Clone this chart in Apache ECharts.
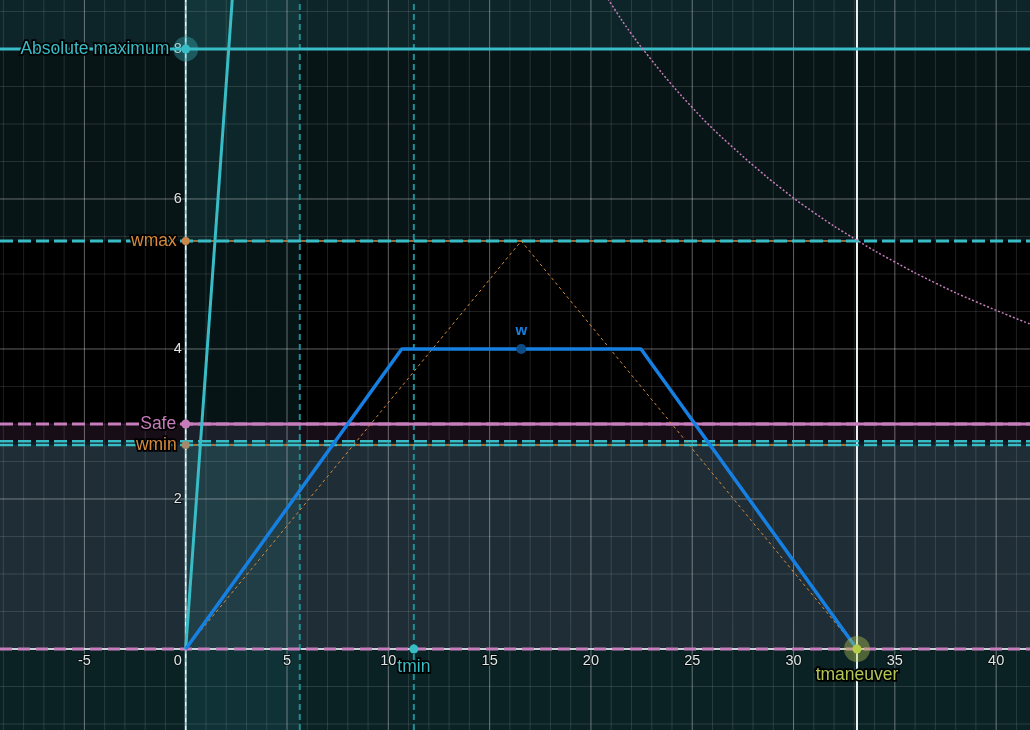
<!DOCTYPE html>
<html>
<head>
<meta charset="utf-8">
<script src="https://cdn.jsdelivr.net/npm/echarts@6/dist/echarts.min.js"></script>
<style>
html,body{margin:0;padding:0;background:#000;}
#chart{width:1030px;height:730px;}
</style>
</head>
<body>
<div id="chart"></div>
<script>
// ---------- data ----------
const xTickLabels = [-5, 0, 5, 10, 15, 20, 25, 30, 35, 40];
const yTickLabels = [2, 4, 6, 8];
const absMax = 8;
const wmax = 5.44;
const safe = 3.0;
const wminUpper = 2.77;
const wmin = 2.72;
const tHalf = 5.63;
const tmin = 11.26;
const tmaneuver = 33.13;
const wPoint = [16.56, 4.0];
const trapezoidT = [0, 10.66, 22.47, 33.13];
const trapezoidW = [0, 4.0, 4.0, 0];
const triangleT = [0, 16.56, 33.13];
const triangleW = [0, 5.44, 0];
const steepT = [0, 2.3];
const steepW = [0, 8.67];
const limitT = [20.0, 21, 22, 23, 24, 25, 26, 27, 28, 29.3, 31, 33.13, 35, 37, 39, 41.7];
const limitW = [9.03, 8.6, 8.2, 7.85, 7.52, 7.22, 6.94, 6.69, 6.45, 6.16, 5.82, 5.45, 5.16, 4.88, 4.63, 4.33];

// ---------- view ----------
const X_MIN = -9.166, X_MAX = 41.67, Y_MIN = -1.08, Y_MAX = 8.653;
const FONT = '"Liberation Sans", Arial, sans-serif';
const TEAL = '#38bcc6';
const ORANGE = '#d58a3c';
const PINK = '#c77dbb';
const BLUE = '#1680e2';

const pairs = (xs, ys) => xs.map((x, i) => [x, ys[i]]);

// horizontal background bands [low, high]
const hBands = [[absMax, Y_MAX], [wmax, absMax], [safe, wmax], [wminUpper, safe], [wmin, wminUpper], [0, wmin], [Y_MIN, 0]];
const bandColors = ['#0d2528', '#081517', '#000000', '#170d17', '#141d24', '#1f2e36', '#0b2225'];

// grid values
const xMajor = [-10, -5, 0, 5, 10, 15, 20, 25, 30, 35, 40];
const xMinor = [];
for (let v = -9; v <= 41; v++) if (v % 5 !== 0) xMinor.push(v);
const yMajor = [-2, 0, 2, 4, 6, 8];
const yMinor = [];
for (let v = -1; v <= 8.5; v += 0.5) if (Math.abs(v % 2) > 1e-9) yMinor.push(v);

function vLines(values, color, width, z, dash) {
  return {
    type: 'custom', coordinateSystem: 'cartesian2d', silent: true, z: z,
    data: values.map(v => [v, 0]),
    renderItem: (p, api) => {
      const a = api.coord([api.value(0), Y_MIN]);
      const b = api.coord([api.value(0), Y_MAX]);
      return {type: 'line', shape: {x1: a[0], y1: a[1], x2: b[0], y2: b[1]},
        style: {stroke: color, lineWidth: width, lineDash: dash || null}};
    }
  };
}
function hLines(values, color, width, z, dash) {
  return {
    type: 'custom', coordinateSystem: 'cartesian2d', silent: true, z: z,
    data: values.map(v => [0, v]),
    renderItem: (p, api) => {
      const a = api.coord([X_MIN, api.value(1)]);
      const b = api.coord([X_MAX, api.value(1)]);
      return {type: 'line', shape: {x1: a[0], y1: a[1], x2: b[0], y2: b[1]},
        style: {stroke: color, lineWidth: width, lineDash: dash || null}};
    }
  };
}
function seg(data, color, width, z, dash, extra) {
  return Object.assign({
    type: 'line', data: data, symbol: 'none', silent: true, z: z, animation: false,
    lineStyle: {color: color, width: width, type: dash || 'solid'}
  }, extra || {});
}
function pt(xy, size, color, z, label) {
  return {
    type: 'scatter', data: [xy], symbolSize: size, z: z, silent: true, animation: false,
    itemStyle: {color: color, opacity: 1},
    label: label ? Object.assign({show: true, fontFamily: FONT, fontSize: 17.5,
      textBorderColor: '#000', textBorderWidth: 3.5, formatter: label.text}, label) : {show: false}
  };
}

const series = [
  // background bands
  {
    type: 'custom', coordinateSystem: 'cartesian2d', silent: true, z: 0,
    data: hBands.map(b => [0, b[0], b[1]]),
    renderItem: (p, api) => {
      const a = api.coord([X_MIN, api.value(2)]);
      const b = api.coord([X_MAX, api.value(1)]);
      return {type: 'rect', shape: {x: a[0], y: a[1], width: b[0] - a[0], height: b[1] - a[1]},
        style: {fill: bandColors[p.dataIndex]}};
    }
  },
  // vertical band 0..tHalf
  {
    type: 'custom', coordinateSystem: 'cartesian2d', silent: true, z: 1,
    data: [[0, tHalf]],
    renderItem: (p, api) => {
      const a = api.coord([api.value(0), Y_MAX]);
      const b = api.coord([api.value(1), Y_MIN]);
      return {type: 'rect', shape: {x: a[0], y: a[1], width: b[0] - a[0], height: b[1] - a[1]},
        style: {fill: 'rgba(60,200,210,0.10)'}};
    }
  },
  vLines(xMinor, 'rgba(255,255,255,0.12)', 1, 2),
  hLines(yMinor, 'rgba(255,255,255,0.12)', 1, 2),
  vLines(xMajor, 'rgba(255,255,255,0.38)', 1, 2),
  hLines(yMajor, 'rgba(255,255,255,0.38)', 1, 2),
  // axes
  hLines([0], 'rgba(225,232,235,0.85)', 2, 3),
  vLines([0], 'rgba(175,215,220,0.9)', 2, 3),
  vLines([0], '#ffffff', 1, 3, [4, 4]),
  // tick labels
  {
    type: 'custom', coordinateSystem: 'cartesian2d', silent: true, z: 4,
    data: xTickLabels.map(v => [v, 0]),
    renderItem: (p, api) => {
      const v = api.value(0);
      const c = api.coord([v, 0]);
      const zero = v === 0;
      return {type: 'text', x: zero ? c[0] - 4 : c[0], y: c[1] + 12,
        style: {text: String(v), fill: '#dfe6e6', font: '14.5px ' + FONT,
          textAlign: zero ? 'right' : 'center', textVerticalAlign: 'middle',
          stroke: 'rgba(0,0,0,0.6)', lineWidth: 2}};
    }
  },
  {
    type: 'custom', coordinateSystem: 'cartesian2d', silent: true, z: 4,
    data: yTickLabels.map(v => [0, v]),
    renderItem: (p, api) => {
      const v = api.value(1);
      const c = api.coord([0, v]);
      return {type: 'text', x: c[0] - 4, y: c[1],
        style: {text: String(v), fill: '#dfe6e6', font: '14.5px ' + FONT,
          textAlign: 'right', textVerticalAlign: 'middle',
          stroke: 'rgba(0,0,0,0.6)', lineWidth: 2}};
    }
  },
  // reference verticals
  vLines([tHalf, tmin], '#1f8e96', 2, 5, [6, 4]),
  vLines([tmaneuver], '#eef4f4', 2, 5),
  // horizontal reference lines
  hLines([0], PINK, 3, 5, [12, 6]),
  hLines([absMax], TEAL, 3, 5),
  seg([[0, wmax], [tmaneuver, wmax]], ORANGE, 1.5, 5),
  seg([[0, wmin], [tmaneuver, wmin]], ORANGE, 1.5, 5),
  hLines([wmax], TEAL, 3, 6, [13, 5]),
  hLines([wminUpper, wmin], TEAL, 2.5, 6, [13, 5]),
  hLines([safe], PINK, 3, 6, [13, 5]),
  seg([[0, safe], [X_MAX, safe]], PINK, 3, 6),
  // curves
  seg(pairs(limitT, limitW), PINK, 1.5, 7, [2, 2], {smooth: true}),
  seg(pairs(triangleT, triangleW), ORANGE, 1, 7, [3, 3]),
  seg(pairs(steepT, steepW), TEAL, 3, 8),
  seg(pairs(trapezoidT, trapezoidW), BLUE, 3.5, 8),
  // points & labels
  pt([0, absMax], 25, 'rgba(56,188,198,0.35)', 9),
  pt([0, absMax], 9, TEAL, 10, {text: 'Absolute maximum', position: 'left', distance: 12, color: TEAL}),
  pt([0, wmax], 8, '#c8884a', 10, {text: 'wmax', position: 'left', distance: 5, color: ORANGE}),
  pt([0, safe], 9, PINK, 10, {text: 'Safe', position: 'left', distance: 5, color: PINK}),
  pt([0, wmin], 8, '#a48a6a', 10, {text: 'wmin', position: 'left', distance: 5, color: ORANGE}),
  pt([tmin, 0], 9, TEAL, 10, {text: 'tmin', position: 'bottom', distance: 5, color: TEAL}),
  pt([tmaneuver, 0], 26, 'rgba(180,200,80,0.4)', 9, {text: 'tmaneuver', position: 'bottom', distance: 4, color: '#b2c655'}),
  pt([tmaneuver, 0], 9, '#b4cc48', 10),
  pt(wPoint, 10, '#0e4c85', 10, {text: 'w', position: 'top', distance: 6, color: BLUE, fontSize: 15, fontWeight: 'bold', textBorderWidth: 0})
];

const chart = echarts.init(document.getElementById('chart'), null, {renderer: 'canvas'});
chart.setOption({
  backgroundColor: '#000',
  animation: false,
  grid: {left: 0, right: 0, top: 0, bottom: 0, containLabel: false},
  xAxis: {type: 'value', min: X_MIN, max: X_MAX, show: false},
  yAxis: {type: 'value', min: Y_MIN, max: Y_MAX, show: false},
  series: series
});
</script>
</body>
</html>
